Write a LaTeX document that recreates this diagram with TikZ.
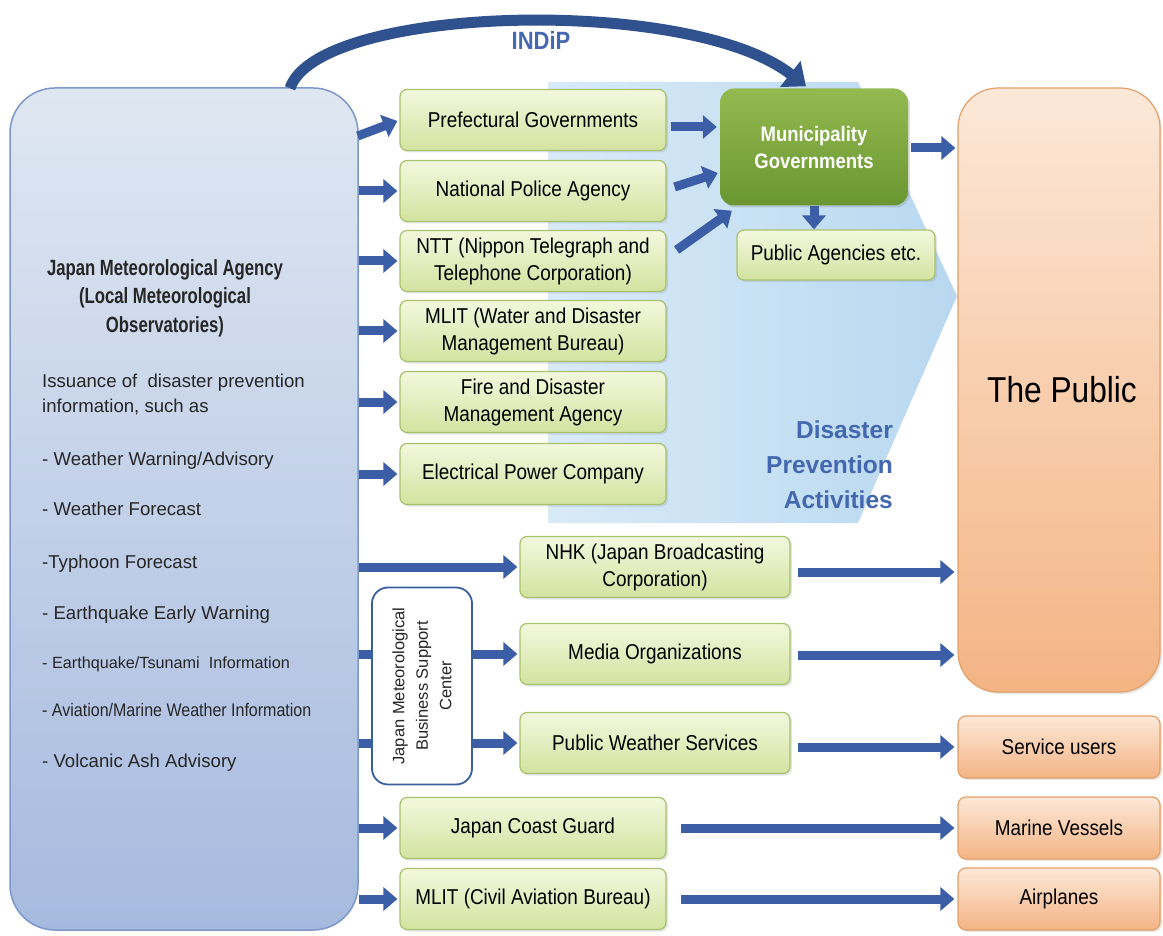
\documentclass[tikz,border=0pt]{standalone}
\usepackage{fontspec}
\setmainfont{Liberation Sans}
\newfontfamily\fA{Liberation Sans}[FakeStretch=0.88]
\newfontfamily\fB{Liberation Sans}[FakeStretch=0.76]
\usetikzlibrary{arrows.meta,shadows,calc}
\definecolor{arrowblue}{HTML}{3B5EA6}
\definecolor{indipblue}{HTML}{2F528F}
\definecolor{txtblue}{HTML}{4468B0}
\definecolor{gtop}{HTML}{F3F8DE}
\definecolor{gbot}{HTML}{D3E3A0}
\definecolor{gline}{HTML}{A8C26C}
\definecolor{mtop}{HTML}{93BA50}
\definecolor{mbot}{HTML}{6A9631}
\definecolor{jtop}{HTML}{DFE7F2}
\definecolor{jbot}{HTML}{A6BADF}
\definecolor{jline}{HTML}{7C97C9}
\definecolor{otop}{HTML}{FCE8D8}
\definecolor{obot}{HTML}{F4B484}
\definecolor{oline}{HTML}{E3A067}
\definecolor{chevL}{HTML}{D9EAF7}
\definecolor{chevR}{HTML}{B8D8F0}
\definecolor{scline}{HTML}{3A5F9E}
\tikzset{
  gbox/.style={draw=gline, line width=1.2pt, rounded corners=7pt, top color=gtop, bottom color=gbot,
    minimum width=266pt, minimum height=61pt, inner sep=0pt, align=center,
    font=\fA\fontsize{21.5}{27}\selectfont,
    drop shadow={opacity=0.2,shadow xshift=2pt,shadow yshift=-2pt}},
  obox/.style={draw=oline, line width=1.2pt, rounded corners=8pt, top color=otop, bottom color=obot,
    minimum width=202pt, minimum height=62pt, inner sep=0pt, align=center,
    font=\fA\fontsize{21.5}{27}\selectfont,
    drop shadow={opacity=0.2,shadow xshift=2pt,shadow yshift=-2pt}},
  listtxt/.style={anchor=base west, inner sep=0pt, font=\fontsize{18.6}{22}\selectfont, text=black!85},
  barrow/.style={draw=arrowblue, line width=9pt, -{Triangle[length=14pt,width=23pt]}},
  barline/.style={draw=arrowblue, line width=9pt},
  indip/.style={draw=indipblue, line width=11pt, -{Triangle[length=20pt,width=32pt]}},
}
\begin{document}
\begin{tikzpicture}[x=1pt,y=-1pt]
\fill[white] (0,0) rectangle (1163,936);
\useasboundingbox (0,0) rectangle (1163,936);

% chevron background
\shade[left color=chevL, right color=chevR] (548,82) -- (858,82) -- (957,296) -- (858,523) -- (548,523) -- cycle;

% JMA box
\node[draw=jline, line width=1.5pt, rounded corners=45pt, top color=jtop, bottom color=jbot,
  minimum width=348pt, minimum height=842pt, inner sep=0pt] (jma) at (184,509) {};
\node[font=\fB\bfseries\fontsize{22}{28.5}\selectfont, align=center, text=black!85] (jmat) at (165,298)
  {Japan Meteorological Agency\\(Local Meteorological\\Observatories)};
\node[listtxt] (l1) at (42,387) {Issuance of\ \ disaster prevention};
\node[listtxt] (l2) at (42,412) {information, such as};
\node[listtxt] (l3) at (42,465) {- Weather Warning/Advisory};
\node[listtxt] (l4) at (42,515) {- Weather Forecast};
\node[listtxt] (l5) at (42,568) {-Typhoon Forecast};
\node[listtxt] (l6) at (42,619) {- Earthquake Early Warning};
\node[listtxt, font=\fontsize{16.2}{20}\selectfont] (l7) at (42,668) {- Earthquake/Tsunami\ \ Information};
\node[listtxt, font=\fA\fontsize{18.2}{20}\selectfont] (l8) at (42,716) {- Aviation/Marine Weather Information};
\node[listtxt] (l9) at (42,767) {- Volcanic Ash Advisory};

% green boxes
\node[gbox] (pref) at (533,120) {Prefectural Governments};
\node[gbox] (npa) at (533,191) {National Police Agency};
\node[gbox] (ntt) at (533,261) {NTT (Nippon Telegraph and\\Telephone Corporation)};
\node[gbox] (mlitw) at (533,331) {MLIT (Water and Disaster\\Management Bureau)};
\node[gbox] (fire) at (533,402) {Fire and Disaster\\Management Agency};
\node[gbox] (elec) at (533,474) {Electrical Power Company};
\node[gbox, minimum width=270pt] (nhk) at (655,567) {NHK (Japan Broadcasting\\Corporation)};
\node[gbox, minimum width=270pt] (media) at (655,654) {Media Organizations};
\node[gbox, minimum width=270pt] (pws) at (655,743) {Public Weather Services};
\node[gbox] (coast) at (533,828) {Japan Coast Guard};
\node[gbox] (mlitc) at (533,899) {MLIT (Civil Aviation Bureau)};

% municipality and public agencies
\node[rounded corners=14pt, top color=mtop, bottom color=mbot, minimum width=188pt, minimum height=117pt,
  inner sep=0pt, align=center, text=white, font=\fA\bfseries\fontsize{21}{27}\selectfont,
  drop shadow={opacity=0.25,shadow xshift=2pt,shadow yshift=-2pt}] (muni) at (814,147) {Municipality\\Governments};
\node[gbox, minimum width=198pt, minimum height=50pt] (pa) at (836,255) {Public Agencies etc.};

% support center
\node[draw=scline, line width=1.8pt, fill=white, rounded corners=16pt, minimum width=100pt,
  minimum height=197pt, inner sep=0pt] (sc) at (422,686) {};
\node[rotate=90, align=center, font=\fontsize{16.5}{23.5}\selectfont, text=black!85] (sct) at (sc.center)
  {Japan Meteorological\\Business Support\\Center};

% the public and receivers
\node[draw=oline, line width=1.2pt, rounded corners=40pt, top color=otop, bottom color=obot,
  minimum width=202pt, minimum height=604pt, inner sep=0pt, font=\fA\fontsize{36}{40}\selectfont,
  drop shadow={opacity=0.2,shadow xshift=2pt,shadow yshift=-2pt}] (public) at (1059,390) {\hspace*{6pt}The Public};
\node[obox] (service) at (1059,747) {Service users};
\node[obox] (marine) at (1059,828) {Marine Vessels};
\node[obox] (air) at (1059,899) {Airplanes};

% labels
\node[text=txtblue, font=\fA\bfseries\fontsize{25}{28}\selectfont] (indipl) at (541,40) {INDiP};
\node[anchor=east, inner sep=0pt, align=right, text=txtblue, font=\bfseries\fontsize{24.5}{35}\selectfont] (dpa) at (893,465)
  {Disaster\\Prevention\\Activities};

% INDiP arc
\draw[indip] ($(jma.north)+(106,1)$) .. controls (318,5) and (690,-5) .. ($(muni.north)+(-8,-2)$);

% arrows from JMA
\draw[barrow] ($(jma.east|-pref.west)+(-1,16)$) -- ($(pref.west)+(-2,1)$);
\draw[barrow] (jma.east|-npa.west) -- ($(npa.west)+(-2,0)$);
\draw[barrow] (jma.east|-ntt.west) -- ($(ntt.west)+(-2,0)$);
\draw[barrow] (jma.east|-mlitw.west) -- ($(mlitw.west)+(-2,0)$);
\draw[barrow] (jma.east|-fire.west) -- ($(fire.west)+(-2,0)$);
\draw[barrow] (jma.east|-elec.west) -- ($(elec.west)+(-2,0)$);
\draw[barrow] (jma.east|-nhk.west) -- ($(nhk.west)+(-2,0)$);
\draw[barline] (jma.east|-media.west) -- (sc.west|-media.west);
\draw[barline] (jma.east|-pws.west) -- (sc.west|-pws.west);
\draw[barrow] (sc.east|-media.west) -- ($(media.west)+(-2,0)$);
\draw[barrow] (sc.east|-pws.west) -- ($(pws.west)+(-2,0)$);
\draw[barrow] (jma.east|-coast.west) -- ($(coast.west)+(-2,0)$);
\draw[barrow] (jma.east|-mlitc.west) -- ($(mlitc.west)+(-2,0)$);

% arrows to municipality
\draw[barrow] ($(pref.east)+(4,7)$) -- ($(muni.west)+(-3,-20)$);
\draw[barrow] ($(npa.east)+(8,-4)$) -- ($(muni.west)+(-2,26)$);
\draw[barrow] ($(ntt.east)+(10,-11)$) -- ($(muni.south west)+(12,5)$);
\draw[barrow] (muni.south) -- (muni.south|-pa.north);
\draw[barrow] ($(muni.east)+(3,1)$) -- ($(muni.east-|public.west)+(-2,1)$);

% arrows to the public and receivers
\draw[barrow] ($(nhk.east)+(7,5)$) -- ($(nhk.east-|public.west)+(-3,5)$);
\draw[barrow] ($(media.east)+(7,1)$) -- ($(media.east-|public.west)+(-3,1)$);
\draw[barrow] ($(pws.east)+(7,4)$) -- ($(pws.east-|service.west)+(-3,4)$);
\draw[barrow] ($(coast.east)+(14,0)$) -- ($(marine.west)+(-3,0)$);
\draw[barrow] ($(mlitc.east)+(14,0)$) -- ($(air.west)+(-3,0)$);
\end{tikzpicture}
\end{document}
